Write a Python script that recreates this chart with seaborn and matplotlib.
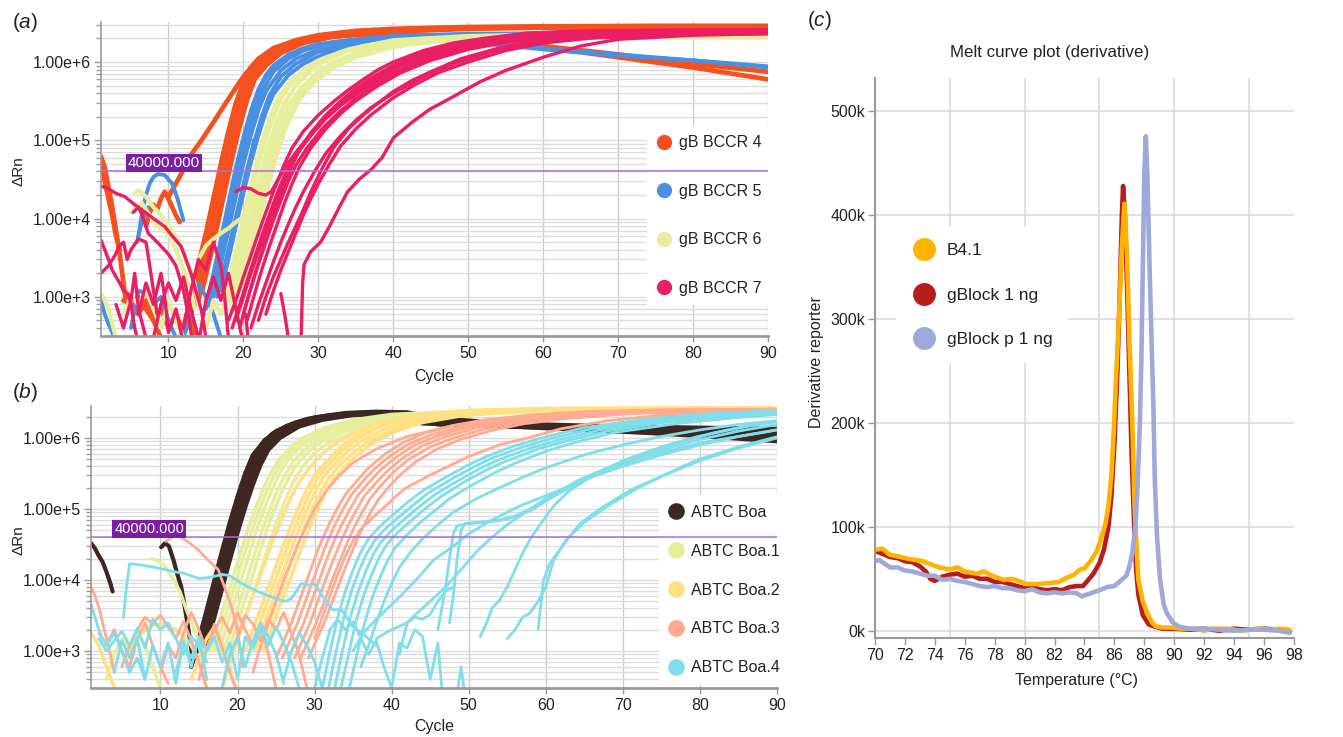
import pandas as pd
import matplotlib
matplotlib.use("Agg")
import matplotlib.pyplot as plt
import matplotlib.ticker as mticker
from matplotlib.lines import Line2D
import seaborn as sns

# ---------------------------------------------------------------------------
# (a) amplification plot, gB BCCR 4-7  -> each curve is a list of (cycle, dRn)
# ---------------------------------------------------------------------------
bccr4_curves = [
    [(12, 4e2), (13, 1.0e3), (14, 2.6e3), (15, 6.5e3), (16, 1.8e4), (17, 5e4), (18, 1.3e5), (19, 3e5), (20, 5.5e5), (21, 8.5e5), (22, 1.1e6), (24, 1.5e6), (27, 1.9e6), (30, 2.2e6), (35, 2.5e6), (40, 2.65e6), (50, 2.8e6), (60, 2.85e6), (75, 2.9e6), (90, 2.9e6)],
    [(13, 6e2), (14, 1.4e3), (15, 3.5e3), (16, 1e4), (17, 2.8e4), (18, 7.5e4), (19, 1.9e5), (20, 4e5), (21, 6.8e5), (22, 9.5e5), (24, 1.4e6), (27, 1.8e6), (30, 2.05e6), (35, 2.25e6), (40, 2.3e6), (45, 2.2e6), (50, 2e6), (60, 1.6e6), (70, 1.25e6), (80, 0.95e6), (90, 0.75e6)],
    [(13.5, 8e2), (14.5, 2e3), (15.5, 5e3), (16.5, 1.4e4), (17.5, 3.8e4), (18.5, 1e5), (19.5, 2.4e5), (20.5, 4.8e5), (21.5, 7.5e5), (23, 1.1e6), (25, 1.5e6), (28, 1.9e6), (32, 2.15e6), (38, 2.3e6), (45, 2.15e6), (50, 2e6), (60, 1.55e6), (70, 1.15e6), (80, 0.85e6), (90, 0.6e6)],
    [(14, 9e2), (15, 2.2e3), (16, 6e3), (17, 1.6e4), (18, 4.5e4), (19, 1.2e5), (20, 2.8e5), (21, 5.2e5), (22, 8e5), (24, 1.2e6), (27, 1.7e6), (30, 2e6), (35, 2.35e6), (40, 2.55e6), (50, 2.7e6), (60, 2.8e6), (90, 2.85e6)],
    [(14.5, 1.2e3), (15.5, 3e3), (16.5, 8e3), (17.5, 2.2e4), (18.5, 6e4), (19.5, 1.5e5), (20.5, 3.3e5), (21.5, 6e5), (23, 9e5), (25, 1.3e6), (28, 1.75e6), (32, 2.1e6), (40, 2.45e6), (50, 2.65e6), (60, 2.75e6), (90, 2.8e6)],
    [(12.5, 5e2), (13.5, 1.3e3), (14.5, 3.3e3), (15.5, 9e3), (16.5, 2.5e4), (17.5, 6.8e4), (18.5, 1.7e5), (19.5, 3.7e5), (20.5, 6.3e5), (21.5, 8.8e5), (23, 1.2e6), (26, 1.65e6), (30, 2.1e6), (36, 2.45e6), (45, 2.7e6), (60, 2.8e6), (90, 2.85e6)],
    [(10, 1.9e4), (11, 2.8e4), (12, 4.2e4), (13, 6.5e4), (14.4, 1e5), (16, 1.7e5), (17, 2.4e5), (18.8, 4.4e5), (20, 6.5e5), (21, 8.5e5), (23, 1.2e6), (26, 1.6e6), (30, 2.1e6), (40, 2.6e6), (50, 2.75e6), (70, 2.85e6), (90, 2.85e6)],
    [(1, 6.2e4), (1.5, 4.5e4), (2, 2.5e4), (2.5, 1.4e4), (3, 7e3), (3.5, 3.5e3), (4, 1.5e3), (4.3, 9e2), (5, 8e2), (6, 1e3), (7, 7e2), (8, 5e2), (9, 3e2)],
    [(1, 4.5e4), (1.5, 3e4), (2, 1.8e4), (2.5, 1.1e4), (3, 6e3), (3.5, 4e3)],
    [(7, 8e3), (7.5, 1.2e4), (8, 1.5e4), (8.5, 1.3e4), (9, 1.8e4), (9.5, 2.2e4), (10, 1.8e4), (10.5, 1.4e4), (11, 1.1e4), (11.5, 9e3)],
    [(4, 9e2), (5, 8e2), (6, 6e2), (7, 9e2), (8, 5e2), (9, 7e2), (10, 4e2), (11, 6e2), (12, 3.5e2), (13, 5e2), (14, 2.5e2)],
]

bccr5_curves = [
    [(15, 8e2), (16, 2e3), (17, 5.5e3), (18, 1.6e4), (19, 4.5e4), (20, 1.1e5), (21, 2.4e5), (22, 4.5e5), (23, 6.8e5), (24, 9e5), (26, 1.25e6), (28, 1.5e6), (30, 1.7e6), (35, 1.95e6), (40, 2.1e6), (50, 2.25e6), (60, 2.3e6), (90, 2.35e6)],
    [(15.5, 9e2), (16.5, 2.2e3), (17.5, 6e3), (18.5, 1.7e4), (19.5, 4.6e4), (20.5, 1.1e5), (21.5, 2.3e5), (22.5, 4.2e5), (24, 7.5e5), (26, 1.1e6), (28, 1.4e6), (31, 1.7e6), (36, 1.95e6), (42, 2.0e6), (50, 1.8e6), (60, 1.45e6), (70, 1.2e6), (80, 1.05e6), (90, 0.88e6)],
    [(16, 1e3), (17, 2.6e3), (18, 7e3), (19, 1.9e4), (20, 5e4), (21, 1.15e5), (22, 2.4e5), (23, 4.2e5), (25, 7.8e5), (27, 1.1e6), (30, 1.45e6), (35, 1.8e6), (40, 2.0e6), (50, 2.2e6), (60, 2.3e6), (90, 2.4e6)],
    [(16.5, 1e3), (17.5, 2.5e3), (18.5, 6.5e3), (19.5, 1.7e4), (20.5, 4.3e4), (21.5, 1e5), (22.5, 2.1e5), (23.5, 3.8e5), (25, 6.5e5), (27, 9.5e5), (30, 1.35e6), (35, 1.75e6), (40, 1.95e6), (45, 1.95e6), (50, 1.8e6), (60, 1.5e6), (70, 1.25e6), (80, 1.05e6), (90, 0.85e6)],
    [(15, 7e2), (16, 1.5e3), (17, 4e3), (18, 1.2e4), (19, 3.6e4), (20, 9.5e4), (21, 2.2e5), (22, 4.2e5), (23, 6.5e5), (25, 1e6), (28, 1.45e6), (32, 1.8e6), (40, 2.15e6), (50, 2.3e6), (70, 2.35e6), (90, 2.4e6)],
    [(17, 1.2e3), (18, 3e3), (19, 8e3), (20, 2.1e4), (21, 5.2e4), (22, 1.15e5), (23, 2.3e5), (24, 3.9e5), (26, 6.8e5), (28, 9.5e5), (31, 1.3e6), (36, 1.7e6), (42, 2e6), (50, 2.2e6), (60, 2.3e6), (90, 2.35e6)],
    [(6, 6e3), (6.5, 1.2e4), (7, 2e4), (7.5, 2.8e4), (8, 3.4e4), (8.6, 3.7e4), (9.5, 3.6e4), (10.5, 2.8e4), (11.2, 1.8e4), (12, 9.5e3)],
    [(5.8, 5e3), (6.3, 8e3), (6.8, 1.1e4), (7.3, 1.4e4)],
    [(20.5, 3.5e4), (21, 6e4), (21.4, 1e5)],
    [(1, 9e2), (1.5, 6e2), (2, 4.5e2), (2.5, 3.5e2), (3, 2.5e2)],
    [(5, 4e2), (6, 1.2e3), (7, 1.1e3), (8, 8e2), (9, 1e3), (10, 5e2), (11, 3e2)],
    [(12, 3e2), (13, 6e2), (14, 1.5e3), (15, 1e3), (16, 6e2), (17, 3e2)],
]

bccr6_curves = [
    [(18, 1e3), (19, 2.6e3), (20, 7e3), (21, 1.9e4), (22, 4.8e4), (23, 1.05e5), (24, 2e5), (25, 3.3e5), (26, 4.8e5), (28, 7.5e5), (30, 1e6), (33, 1.35e6), (36, 1.6e6), (40, 1.85e6), (45, 2e6), (50, 2.1e6), (60, 2.2e6), (90, 2.2e6)],
    [(18.5, 1e3), (19.5, 2.5e3), (20.5, 6.5e3), (21.5, 1.7e4), (22.5, 4.3e4), (23.5, 9.5e4), (24.5, 1.8e5), (25.5, 3e5), (27, 5e5), (29, 7.8e5), (31, 1.05e6), (34, 1.4e6), (38, 1.7e6), (42, 1.9e6), (50, 2.1e6), (60, 2.15e6), (90, 2.15e6)],
    [(19, 1.1e3), (20, 2.8e3), (21, 7e3), (22, 1.8e4), (23, 4.3e4), (24, 9e4), (25, 1.7e5), (26, 2.8e5), (28, 5e5), (30, 7.5e5), (32, 1e6), (35, 1.3e6), (40, 1.7e6), (45, 1.9e6), (50, 2e6), (60, 2.1e6), (90, 2.05e6)],
    [(17.5, 1e3), (18.5, 2.4e3), (19.5, 6e3), (20.5, 1.6e4), (21.5, 4.2e4), (22.5, 9.5e4), (23.5, 1.9e5), (24.5, 3.2e5), (26, 5.2e5), (28, 8e5), (30, 1.05e6), (34, 1.45e6), (40, 1.9e6), (50, 2.15e6), (60, 2.25e6), (90, 2.3e6)],
    [(19.5, 1.2e3), (20.5, 3e3), (21.5, 7.5e3), (22.5, 1.9e4), (23.5, 4.4e4), (24.5, 9e4), (25.5, 1.7e5), (27, 3.2e5), (29, 5.5e5), (31, 8e5), (34, 1.1e6), (38, 1.45e6), (44, 1.8e6), (50, 2e6), (60, 2.1e6), (90, 2.1e6)],
    [(20, 1.3e3), (21, 3.2e3), (22, 8e3), (23, 2e4), (24, 4.6e4), (25, 9.5e4), (26, 1.75e5), (27.5, 3.3e5), (29.5, 5.6e5), (32, 8.5e5), (35, 1.15e6), (40, 1.55e6), (46, 1.85e6), (55, 2.05e6), (70, 2.15e6), (90, 2.15e6)],
    [(14, 3e3), (15, 4.5e3), (16, 5.5e3), (17, 6.5e3), (18, 7.5e3), (19, 9e3), (20, 1.05e4), (21, 1.5e4), (22, 2.8e4)],
    [(5.5, 2.1e4), (6, 2.3e4), (7, 1.9e4), (8, 1.4e4), (8.7, 1.2e4), (10, 8e3), (11.3, 5.3e3), (12.6, 2.7e3), (13.4, 1.6e3), (14, 8e2)],
    [(5, 1.2e4), (6.4, 1.6e4), (7.5, 1.1e4), (8.5, 8e3), (10, 6.3e3), (11, 4e3), (12, 2.2e3), (13, 1.2e3), (13.5, 7e2)],
    [(1, 1.1e3), (1.5, 9e2), (2, 7e2), (2.5, 4.5e2), (3, 3e2)],
    [(4, 6e2), (5, 1e3), (6, 8e2), (7, 1.2e3), (8, 7e2), (9, 4e2), (10, 9e2), (11, 5e2), (12, 3e2)],
    [(15, 4e2), (16, 9e2), (17, 6e2), (18, 1.1e3), (19, 5e2)],
]

bccr7_curves = [
    [(18, 5e2), (19, 9e2), (20, 1.8e3), (21, 3.4e3), (22, 6.5e3), (23, 1.2e4), (24, 2.2e4), (25.4, 4.8e4), (26.5, 8e4), (28, 1.3e5), (30, 2.1e5), (32, 3.1e5), (34, 4.4e5), (36, 6e5), (38, 8e5), (40, 1e6), (44, 1.4e6), (48, 1.75e6), (52, 2e6), (58, 2.35e6), (65, 2.5e6), (75, 2.55e6), (90, 2.55e6)],
    [(19, 5e2), (20, 1e3), (21, 2e3), (22, 3.8e3), (23, 7e3), (24, 1.3e4), (25, 2.3e4), (26, 4e4), (27, 6.5e4), (28.5, 1.05e5), (30.5, 1.8e5), (32.5, 2.8e5), (35, 4.2e5), (37, 5.7e5), (40, 8.5e5), (44, 1.25e6), (48, 1.6e6), (53, 1.95e6), (60, 2.25e6), (70, 2.4e6), (90, 2.45e6)],
    [(18.5, 4e2), (19.5, 8e2), (20.5, 1.6e3), (21.5, 3.2e3), (22.5, 6.2e3), (23.5, 1.15e4), (24.5, 2.1e4), (25.5, 3.6e4), (27, 6.5e4), (29, 1.15e5), (31, 1.9e5), (33, 2.9e5), (35, 4e5), (38, 6.2e5), (41, 9e5), (45, 1.25e6), (50, 1.65e6), (56, 2e6), (64, 2.3e6), (75, 2.45e6), (90, 2.5e6)],
    [(20, 6e2), (21, 1.3e3), (22, 2.6e3), (23, 5e3), (24, 9.5e3), (25, 1.7e4), (26, 3e4), (27, 4.8e4), (28.5, 8e4), (30.5, 1.4e5), (33, 2.4e5), (35, 3.4e5), (38, 5.3e5), (41, 7.8e5), (45, 1.1e6), (50, 1.5e6), (56, 1.9e6), (64, 2.2e6), (75, 2.35e6), (90, 2.4e6)],
    [(19.5, 4e2), (20.5, 9e2), (21.5, 1.9e3), (22.5, 3.9e3), (23.5, 7.8e3), (24.5, 1.5e4), (25.5, 2.8e4), (26.5, 4.8e4), (27.5, 7.5e4), (29, 1.25e5), (31, 2.1e5), (33, 3.2e5), (35, 4.6e5), (37, 6.2e5), (40, 9e5), (44, 1.3e6), (48, 1.65e6), (53, 2e6), (60, 2.3e6), (70, 2.5e6), (90, 2.6e6)],
    [(20.5, 5e2), (21.5, 1.1e3), (22.5, 2.3e3), (23.5, 4.5e3), (24.5, 8.5e3), (25.5, 1.6e4), (26.5, 2.8e4), (27.5, 4.6e4), (29, 8e4), (31, 1.4e5), (33, 2.2e5), (35, 3.2e5), (38, 5e5), (41, 7.3e5), (45, 1.05e6), (50, 1.45e6), (56, 1.85e6), (64, 2.15e6), (75, 2.3e6), (90, 2.35e6)],
    [(19, 2.2e4), (20, 2.5e4), (21, 2.4e4), (22, 2.1e4), (23, 2e4), (23.7, 2.2e4), (24.5, 3e4), (25.5, 4.4e4), (27, 7e4), (29, 1.2e5), (31, 1.9e5), (33, 2.8e5), (36, 4.4e5), (39, 6.5e5), (42, 9e5), (46, 1.25e6), (52, 1.7e6), (60, 2.1e6), (70, 2.35e6), (90, 2.45e6)],
    [(22, 5e2), (23, 1e3), (24, 1.8e3), (25, 3e3), (26, 5e3), (27, 8e3), (28, 1.3e4), (29, 2.2e4), (30.3, 4e4), (32, 8e4), (34, 1.4e5), (36, 2.1e5), (38, 3e5), (40, 4.2e5), (42.5, 5.8e5), (45, 7.5e5), (49, 1.1e6), (54, 1.5e6), (58, 1.8e6), (65, 2.1e6), (75, 2.3e6), (90, 2.35e6)],
    [(23, 6e2), (24, 1.2e3), (25, 2.2e3), (26, 3.8e3), (27, 6.5e3), (28, 1.1e4), (29, 1.8e4), (30, 2.8e4), (31.5, 5e4), (33, 8.5e4), (35, 1.4e5), (37, 2.1e5), (40, 3.5e5), (43, 5.2e5), (46, 7.3e5), (50, 1e6), (55, 1.4e6), (60, 1.75e6), (68, 2.1e6), (80, 2.3e6), (90, 2.35e6)],
    [(21, 4e2), (22, 8e2), (23, 1.5e3), (24, 2.8e3), (25, 5e3), (26, 8.5e3), (27, 1.4e4), (28, 2.2e4), (29.5, 4e4), (31, 6.8e4), (33, 1.15e5), (35, 1.8e5), (37, 2.6e5), (40, 4e5), (44, 6.5e5), (48, 9.5e5), (53, 1.35e6), (58, 1.7e6), (65, 2e6), (75, 2.2e6), (90, 2.3e6)],
    [(27.7, 3e2), (27.9, 1.5e3), (28.1, 2.6e3), (29, 3.8e3), (30.3, 5e3), (31.5, 8e3), (32.8, 1.4e4), (33.9, 2.2e4), (35.5, 3.2e4), (37, 4.2e4), (38.5, 6e4), (40, 1.07e5), (42.5, 1.7e5), (44.9, 2.5e5), (47, 3.2e5), (51.6, 5.6e5), (55, 7.8e5), (60, 1.15e6), (65, 1.6e6), (70, 1.95e6), (80, 2.2e6), (90, 2.3e6)],
    [(1, 2.6e4), (2, 2.4e4), (3, 2.1e4), (4.2, 1.9e4), (5.5, 1.5e4), (6.9, 1.2e4), (8, 1e4), (9.5, 7.9e3), (10.5, 6e3), (11.7, 4.4e3), (13, 2e3), (14.4, 6.7e2), (15, 3e2)],
    [(5.3, 1.2e4), (6, 1.4e4), (6.5, 1.1e4), (7.3, 6.5e3), (8.5, 5e3), (10, 3.5e3), (11, 2.5e3), (12, 1.2e3), (12.8, 5e2), (13.2, 2.5e2)],
    [(1, 5.3e3), (1.5, 4e3), (2, 3e3), (2.5, 2.2e3), (3, 1.8e3), (3.5, 1.5e3), (4, 1.2e3), (4.6, 1.1e3), (5, 8e2), (5.5, 4e2), (6, 2.5e2)],
    [(1, 2e3), (2, 2.5e3), (2.8, 3.3e3), (3.5, 4.5e3), (4, 5e3), (4.5, 3e3), (5, 4e3), (6, 5.5e3), (7, 5e3), (7.5, 2.5e3), (8, 1.2e3), (8.5, 6e2)],
    [(3, 8e2), (4, 4e2), (5, 9e2), (5.5, 2e3), (6, 7e2), (7, 3e2)],
    [(6, 6e2), (7, 1.5e3), (8, 8e2), (9, 2e3), (9.5, 1e3), (10, 3.5e2), (11, 7e2), (12, 2.5e2)],
    [(8, 3e2), (9, 8e2), (10, 1.5e3), (11, 9e2), (12, 1.8e3), (13, 7e2), (14, 3e2)],
    [(12, 4e2), (13, 1.2e3), (14, 3e3), (15, 2.2e3), (16, 5e3), (17, 2.5e3), (17.5, 1e3), (18, 3e2)],
    [(14, 2.5e2), (15, 9e2), (16, 1.8e3), (17, 9e2), (18, 2e3), (19, 7e2), (20, 2.5e2)],
    [(25, 1.1e3), (25.5, 6e2), (26, 3e2)],
    [(20.3, 6e2), (20.6, 3e2)],
]

# ---------------------------------------------------------------------------
# (b) amplification plot, ABTC Boa series
# ---------------------------------------------------------------------------
boa_curves = [
    [(14.5, 9e2), (15.5, 2e3), (16.2, 3.3e3), (17, 7e3), (17.9, 1.4e4), (19, 4e4), (20, 1e5), (21, 2.4e5), (22, 4.8e5), (23, 7.8e5), (24.5, 1.15e6), (26.5, 1.5e6), (29, 1.85e6), (32, 2.1e6), (36, 2.25e6), (40, 2.1e6), (43, 1.7e6), (47, 1.55e6), (60, 1.45e6), (75, 1.3e6), (90, 1.15e6)],
    [(15, 1e3), (16, 2.3e3), (17, 5.5e3), (18, 1.4e4), (19, 3.5e4), (20, 8.5e4), (21, 2e5), (22, 4e5), (23, 6.8e5), (24.5, 1e6), (26.5, 1.4e6), (29, 1.75e6), (33, 2.1e6), (38, 2.2e6), (41, 1.9e6), (44, 1.6e6), (55, 1.45e6), (65, 1.3e6), (75, 1.15e6), (90, 0.9e6)],
    [(14, 6e2), (15, 1.5e3), (16, 3.8e3), (17, 1e4), (18, 2.6e4), (19, 6.5e4), (20, 1.5e5), (21, 3.2e5), (22, 5.8e5), (23.5, 9e5), (25, 1.25e6), (27.5, 1.65e6), (30, 1.95e6), (34, 2.25e6), (38, 2.35e6), (42, 2.3e6), (46, 1.9e6), (55, 1.6e6), (70, 1.45e6), (90, 1.35e6)],
    [(15.5, 1.1e3), (16.5, 2.6e3), (17.5, 6.5e3), (18.5, 1.6e4), (19.5, 4e4), (20.5, 9.5e4), (21.5, 2.1e5), (22.5, 4.1e5), (23.5, 6.8e5), (25, 1e6), (27, 1.4e6), (30, 1.8e6), (34, 2.1e6), (39, 2.2e6), (43, 1.8e6), (48, 1.55e6), (60, 1.45e6), (80, 1.3e6), (90, 1.25e6)],
    [(16, 1.2e3), (17, 3e3), (18, 7.5e3), (19, 1.9e4), (20, 4.6e4), (21, 1.05e5), (22, 2.2e5), (23, 4.2e5), (24, 6.8e5), (25.5, 1e6), (28, 1.45e6), (31, 1.8e6), (35, 2.1e6), (39, 2.15e6), (42, 1.85e6), (46, 1.55e6), (60, 1.4e6), (75, 1.2e6), (90, 1e6)],
    [(14.2, 7e2), (15.2, 1.7e3), (16.2, 4.3e3), (17.2, 1.1e4), (18.2, 2.9e4), (19.2, 7e4), (20.2, 1.6e5), (21.2, 3.4e5), (22.2, 6e5), (23.5, 9.3e5), (25.5, 1.3e6), (28, 1.7e6), (31, 2e6), (35, 2.25e6), (40, 2.3e6), (44, 2e6), (50, 1.6e6), (60, 1.5e6), (75, 1.3e6), (90, 1.1e6)],
    [(1, 3.3e4), (1.5, 2.8e4), (2, 2.2e4), (2.5, 1.8e4), (3, 1.3e4), (3.5, 9e3), (3.8, 6.9e3)],
    [(10.1, 2.9e4), (10.6, 3.3e4), (11.1, 3e4), (11.7, 1.9e4), (12.2, 1.2e4), (12.7, 8e3), (13.1, 4.5e3), (13.5, 2.5e3), (13.9, 1.3e3), (14.2, 7e2)],
]

boa1_curves = [
    [(17, 1e3), (18, 2.2e3), (19, 5e3), (20, 1.1e4), (21, 2.5e4), (22, 5.5e4), (23, 1.1e5), (24, 2e5), (25, 3.4e5), (26, 5e5), (27.5, 7.5e5), (29, 1e6), (32, 1.4e6), (36, 1.8e6), (40, 2.1e6), (50, 2.35e6), (60, 2.4e6), (90, 2.45e6)],
    [(17.6, 1e3), (18.6, 2.2e3), (19.6, 5e3), (20.6, 1.1e4), (21.6, 2.5e4), (22.6, 5.5e4), (23.6, 1.1e5), (24.6, 2e5), (25.6, 3.4e5), (26.6, 5e5), (28.1, 7.4e5), (29.6, 9.8e5), (32.6, 1.38e6), (36.6, 1.78e6), (41, 2.08e6), (50, 2.33e6), (60, 2.4e6), (90, 2.45e6)],
    [(18.2, 1e3), (19.2, 2.1e3), (20.2, 4.6e3), (21.2, 1e4), (22.2, 2.3e4), (23.2, 5e4), (24.2, 1e5), (25.2, 1.85e5), (26.2, 3.1e5), (27.2, 4.6e5), (28.7, 6.9e5), (30.2, 9.2e5), (33.2, 1.3e6), (37, 1.7e6), (42, 2e6), (50, 2.25e6), (60, 2.35e6), (90, 2.4e6)],
    [(18.8, 1e3), (19.8, 2.1e3), (20.8, 4.6e3), (21.8, 1e4), (22.8, 2.3e4), (23.8, 5e4), (24.8, 1e5), (25.8, 1.8e5), (26.8, 3e5), (27.8, 4.4e5), (29.3, 6.6e5), (31, 9e5), (34, 1.25e6), (38, 1.65e6), (43, 1.95e6), (50, 2.2e6), (60, 2.35e6), (90, 2.4e6)],
    [(16.5, 1e3), (17.5, 2.3e3), (18.5, 5.2e3), (19.5, 1.15e4), (20.5, 2.6e4), (21.5, 5.8e4), (22.5, 1.15e5), (23.5, 2.1e5), (24.5, 3.5e5), (25.5, 5.1e5), (27, 7.6e5), (28.5, 1e6), (31.5, 1.42e6), (35, 1.8e6), (40, 2.15e6), (50, 2.4e6), (60, 2.45e6), (90, 2.5e6)],
    [(19.5, 1e3), (20.5, 2e3), (21.5, 4.3e3), (22.5, 9e3), (23.5, 2e4), (24.5, 4.3e4), (25.5, 8.5e4), (26.5, 1.6e5), (27.5, 2.7e5), (28.5, 4e5), (30, 6.2e5), (32, 8.8e5), (35, 1.2e6), (39, 1.6e6), (44, 1.95e6), (52, 2.2e6), (62, 2.35e6), (90, 2.4e6)],
    [(8.8, 2e4), (9.5, 1.9e4), (10.5, 1.6e4), (11.5, 1.1e4), (12.5, 7e3), (13.5, 3.5e3), (14.4, 2e3), (15, 1.3e3), (15.5, 6e2)],
    [(3, 4e2), (4, 9e2), (5, 1.5e3), (6, 1.1e3), (7, 1.9e3), (8, 1.2e3), (9, 6e2), (10, 3e2)],
]

boa2_curves = [
    [(21, 1e3), (22, 2e3), (23, 4e3), (24, 8e3), (25, 1.6e4), (26, 3.2e4), (27, 6e4), (28, 1.1e5), (29, 1.9e5), (30, 3e5), (31.5, 4.6e5), (33, 6.8e5), (35, 1e6), (37.5, 1.4e6), (40, 1.8e6), (45, 2.2e6), (50, 2.45e6), (60, 2.6e6), (90, 2.65e6)],
    [(21.6, 1e3), (22.6, 2e3), (23.6, 4e3), (24.6, 8e3), (25.6, 1.6e4), (26.6, 3.2e4), (27.6, 6e4), (28.6, 1.1e5), (29.6, 1.9e5), (30.6, 3e5), (32.1, 4.6e5), (33.6, 6.7e5), (35.6, 9.8e5), (38, 1.37e6), (41, 1.8e6), (46, 2.2e6), (52, 2.45e6), (62, 2.6e6), (90, 2.65e6)],
    [(22.2, 1e3), (23.2, 2e3), (24.2, 4e3), (25.2, 8e3), (26.2, 1.6e4), (27.2, 3.2e4), (28.2, 6e4), (29.2, 1.1e5), (30.2, 1.85e5), (31.2, 2.9e5), (32.7, 4.4e5), (34.2, 6.4e5), (36.2, 9.3e5), (39, 1.32e6), (42, 1.72e6), (47, 2.12e6), (54, 2.42e6), (65, 2.6e6), (90, 2.65e6)],
    [(22.8, 1e3), (23.8, 2e3), (24.8, 4e3), (25.8, 8e3), (26.8, 1.6e4), (27.8, 3.1e4), (28.8, 5.8e4), (29.8, 1.05e5), (30.8, 1.75e5), (31.8, 2.7e5), (33.3, 4.2e5), (35, 6.2e5), (37, 9e5), (40, 1.3e6), (43, 1.68e6), (48, 2.08e6), (55, 2.4e6), (65, 2.55e6), (90, 2.6e6)],
    [(23.4, 1e3), (24.4, 2e3), (25.4, 4e3), (26.4, 7.8e3), (27.4, 1.5e4), (28.4, 3e4), (29.4, 5.5e4), (30.4, 1e5), (31.4, 1.7e5), (32.4, 2.6e5), (34, 4e5), (35.6, 5.9e5), (37.6, 8.6e5), (40.5, 1.25e6), (44, 1.65e6), (49, 2.05e6), (56, 2.38e6), (66, 2.55e6), (90, 2.6e6)],
    [(18, 3e2), (19, 7e2), (20, 1.5e3), (21, 3e3), (22, 6e3), (23, 1.2e4), (24, 2.4e4), (25, 4.6e4), (26, 8.5e4), (27, 1.5e5), (28, 2.4e5), (29.5, 4e5), (31, 6e5), (33, 8.8e5), (36, 1.3e6), (39, 1.7e6), (44, 2.1e6), (50, 2.4e6), (60, 2.55e6), (90, 2.6e6)],
    [(6, 1e3), (7, 1.5e3), (8, 2e3), (9, 2.3e3), (10, 2.4e3), (11, 2.2e3), (12, 2e3), (13, 1.6e3), (14, 1.2e3), (15, 7e2), (16, 3e2)],
    [(1, 1.8e3), (2, 1.2e3), (3, 6e2), (4, 3e2)],
    [(14, 4e2), (15, 8e2), (16, 1.5e3), (17, 2.2e3), (18, 1.3e3), (19, 6e2), (20, 2.5e2)],
]

boa3_curves = [
    [(25, 8e2), (26, 1.4e3), (27, 2.5e3), (28, 5e3), (29, 1e4), (30, 2e4), (31, 3.8e4), (32, 6.5e4), (33, 1.05e5), (34, 1.6e5), (35.5, 2.5e5), (37, 3.8e5), (39, 5.8e5), (41.4, 8.5e5), (44, 1.15e6), (48, 1.5e6), (52, 1.8e6), (58, 2.1e6), (65, 2.35e6), (75, 2.5e6), (90, 2.55e6)],
    [(25.8, 8e2), (26.8, 1.4e3), (27.8, 2.5e3), (28.8, 5e3), (29.8, 1e4), (30.8, 2e4), (31.8, 3.8e4), (32.8, 6.5e4), (33.8, 1.05e5), (34.8, 1.6e5), (36.3, 2.5e5), (37.8, 3.7e5), (39.8, 5.6e5), (42.2, 8.2e5), (45, 1.1e6), (49, 1.45e6), (53, 1.75e6), (59, 2.05e6), (66, 2.3e6), (76, 2.45e6), (90, 2.5e6)],
    [(26.6, 8e2), (27.6, 1.4e3), (28.6, 2.5e3), (29.6, 5e3), (30.6, 1e4), (31.6, 2e4), (32.6, 3.7e4), (33.6, 6.3e4), (34.6, 1e5), (35.6, 1.55e5), (37.1, 2.4e5), (38.6, 3.6e5), (40.6, 5.4e5), (43, 8e5), (46, 1.08e6), (50, 1.42e6), (54, 1.72e6), (60, 2.02e6), (67, 2.28e6), (77, 2.45e6), (90, 2.5e6)],
    [(27.4, 8e2), (28.4, 1.4e3), (29.4, 2.5e3), (30.4, 5e3), (31.4, 1e4), (32.4, 1.9e4), (33.4, 3.5e4), (34.4, 6e4), (35.4, 9.6e4), (36.4, 1.5e5), (37.9, 2.3e5), (39.4, 3.4e5), (41.4, 5.2e5), (44, 7.8e5), (47, 1.05e6), (51, 1.38e6), (55, 1.68e6), (61, 2e6), (68, 2.25e6), (78, 2.42e6), (90, 2.48e6)],
    [(28.2, 8e2), (29.2, 1.4e3), (30.2, 2.5e3), (31.2, 4.8e3), (32.2, 9.5e3), (33.2, 1.8e4), (34.2, 3.3e4), (35.2, 5.7e4), (36.2, 9.2e4), (37.2, 1.4e5), (38.7, 2.2e5), (40.2, 3.3e5), (42.2, 5e5), (45, 7.5e5), (48, 1e6), (52, 1.33e6), (56, 1.63e6), (62, 1.95e6), (70, 2.25e6), (80, 2.42e6), (90, 2.46e6)],
    [(29.2, 8e2), (30.2, 1.4e3), (31.2, 2.4e3), (32.2, 4.6e3), (33.2, 9e3), (34.2, 1.7e4), (35.2, 3.1e4), (36.2, 5.4e4), (37.2, 8.7e4), (38.2, 1.33e5), (39.7, 2.1e5), (41.2, 3.1e5), (43.2, 4.7e5), (46, 7.1e5), (49, 9.6e5), (53, 1.28e6), (57, 1.58e6), (63, 1.9e6), (71, 2.2e6), (81, 2.4e6), (90, 2.45e6)],
    [(22, 5e2), (23, 1.2e3), (24, 2.5e3), (25, 5e3), (26, 1e4), (27, 1.9e4), (28, 3.5e4), (29, 6e4), (30, 1e5), (31.5, 1.8e5), (33, 2.8e5), (35, 4.5e5), (38, 7e5), (42, 1.05e6), (48, 1.5e6), (55, 1.9e6), (65, 2.3e6), (90, 2.5e6)],
    [(30, 1.5e3), (31, 3e3), (32, 6e3), (33, 1.2e4), (34, 2.2e4), (35, 3.6e4), (36, 5.2e4), (37.5, 7.5e4), (39, 1.05e5), (40.5, 1.5e5), (41.9, 2e5), (45, 3e5), (50, 5.5e5), (54, 8e5), (57.6, 1e6), (62, 1.35e6), (68, 1.75e6), (75, 2.1e6), (90, 2.4e6)],
    [(10.7, 3.5e4), (11.5, 4e4), (12, 4.3e4), (13, 3.8e4), (14, 3.2e4), (15, 2.6e4), (16, 2e4), (17.5, 1.4e4), (18.5, 7e3), (19.2, 4.2e3), (19.8, 2.5e3), (20.3, 1.2e3), (20.7, 6e2)],
    [(1, 8e3), (1.5, 6e3), (2, 4.2e3), (2.5, 2.5e3), (3, 1.5e3), (3.5, 9e2), (4, 5e2)],
    [(2, 1.8e3), (3, 1.2e3), (4, 2e3), (5, 1e3), (6, 6e2), (7, 1.5e3), (8, 2.5e3), (9, 1.2e3), (10, 6e2), (11, 3.5e2)],
    [(5, 6e2), (6, 1.2e3), (7, 2e3), (8, 3e3), (9, 2.4e3), (10, 3.2e3), (11, 2.2e3), (12, 1.5e3), (13, 2.6e3), (14, 1.4e3), (15, 7e2), (16, 3e2)],
    [(10, 5e2), (11, 1.2e3), (12, 8e2), (13, 1.8e3), (14, 3.5e3), (15, 2e3), (16, 1e3), (17, 2.4e3), (18, 1.1e3), (19, 5e2), (20, 2.5e2)],
    [(15, 4e2), (16, 1.1e3), (17, 2e3), (18, 3e3), (19, 1.8e3), (20, 3.4e3), (21, 2e3), (22, 1.2e3), (23, 2.5e3), (24, 9e2), (25, 3e2)],
    [(18, 3e2), (19, 9e2), (20, 1.6e3), (21, 3.2e3), (22, 2.4e3), (23, 1.4e3), (24, 2.8e3), (25, 2e3), (26, 3.5e3), (27, 1.8e3), (28, 9e2), (29, 3e2)],
]

boa4_curves = [
    [(31, 3e2), (32, 1e3), (33, 3e3), (34, 7e3), (35, 1.4e4), (36, 2.5e4), (37, 3.8e4), (38.4, 5.6e4), (40, 8e4), (41.9, 1.2e5), (44, 1.8e5), (47, 2.8e5), (50, 4.2e5), (52.3, 5.5e5), (56, 7.8e5), (60, 1.04e6), (65, 1.4e6), (73, 1.85e6), (80, 2.15e6), (90, 2.45e6)],
    [(31.8, 3e2), (32.8, 1e3), (33.8, 3e3), (34.8, 7e3), (35.8, 1.4e4), (36.8, 2.4e4), (37.8, 3.6e4), (39.2, 5.3e4), (40.8, 7.5e4), (42.7, 1.12e5), (44.8, 1.7e5), (47.8, 2.65e5), (50.8, 4e5), (53, 5.2e5), (57, 7.5e5), (61, 1e6), (66, 1.35e6), (74, 1.8e6), (81, 2.1e6), (90, 2.4e6)],
    [(32.6, 3e2), (33.6, 1e3), (34.6, 2.9e3), (35.6, 6.6e3), (36.6, 1.3e4), (37.6, 2.3e4), (38.6, 3.4e4), (40, 5e4), (41.6, 7.1e4), (43.5, 1.06e5), (45.6, 1.6e5), (48.6, 2.5e5), (51.6, 3.8e5), (54, 5e5), (58, 7.2e5), (62, 9.6e5), (67, 1.3e6), (75, 1.75e6), (82, 2.05e6), (90, 2.35e6)],
    [(33.4, 3e2), (34.4, 9e2), (35.4, 2.7e3), (36.4, 6.2e3), (37.4, 1.2e4), (38.4, 2.1e4), (39.4, 3.2e4), (40.8, 4.7e4), (42.4, 6.7e4), (44.3, 1e5), (46.4, 1.5e5), (49.4, 2.4e5), (52.4, 3.6e5), (55, 4.8e5), (59, 7e5), (63, 9.3e5), (68, 1.25e6), (76, 1.7e6), (83, 2e6), (90, 2.3e6)],
    [(34.5, 3e2), (35.5, 9e2), (36.5, 2.5e3), (37.5, 5.8e3), (38.5, 1.1e4), (39.5, 1.9e4), (40.5, 2.9e4), (42, 4.3e4), (43.5, 6.2e4), (45.5, 9.3e4), (47.5, 1.4e5), (50.5, 2.2e5), (53.5, 3.3e5), (56, 4.4e5), (60, 6.5e5), (64, 8.8e5), (69, 1.2e6), (77, 1.6e6), (84, 1.9e6), (90, 2.15e6)],
    [(35, 1e3), (36.3, 1.8e3), (38, 2.8e3), (40, 4.5e3), (41.5, 6.5e3), (43.5, 1.1e4), (45.4, 1.9e4), (48, 3e4), (50, 4.5e4), (53, 7e4), (56.6, 1.1e5), (61, 1.7e5), (65, 2.6e5), (70, 4e5), (75, 5.8e5), (80, 8e5), (85, 1.05e6), (90, 1.3e6)],
    [(36, 6e2), (37, 1.2e3), (38, 2.5e3), (39, 5e3), (40, 9e3), (41, 1.5e4), (42.5, 2.5e4), (44, 3.8e4), (46, 6e4), (48, 9e4), (51, 1.4e5), (54, 2e5), (57, 2.8e5), (60, 3.8e5), (65, 5.8e5), (70, 8e5), (75, 1.05e6), (80, 1.3e6), (85, 1.55e6), (90, 1.75e6)],
    [(46, 2e3), (46.5, 4e3), (47, 8e3), (47.5, 2e4), (48, 4.5e4), (48.5, 5.8e4), (50, 6.3e4), (52, 6.6e4), (54, 7e4), (56, 8e4), (58, 1e5), (61, 1.6e5), (64.4, 2.6e5), (68, 3.8e5), (73, 6.1e5), (77, 8.5e5), (81.7, 1.17e6), (86, 1.45e6), (90, 1.7e6)],
    [(47.5, 2.5e3), (48, 6e3), (48.5, 2e4), (49, 5e4), (49.5, 6.2e4), (52, 6.5e4), (55, 7.2e4), (58, 9.5e4), (61, 1.5e5), (65, 2.6e5), (70, 4.4e5), (75, 6.8e5), (80, 9.5e5), (85, 1.25e6), (90, 1.55e6)],
    [(51.5, 1.6e3), (52, 2.1e3), (52.5, 2.8e3), (53, 4e3), (54, 5.2e3), (55, 8e3), (56, 1.4e4), (57, 2.4e4), (58, 3.8e4), (59, 5.5e4), (61, 1.1e5), (63, 1.8e5), (66.6, 3.2e5), (70, 4.8e5), (75, 7.5e5), (79.6, 1.04e6), (85, 1.4e6), (90, 1.75e6)],
    [(55, 1.5e3), (56, 2e3), (57, 3e3), (57.9, 3.4e3), (59, 5e3), (60, 8e3), (61, 1.9e4), (62.5, 3.5e4), (64.5, 6.3e4), (67, 1e5), (71, 1.85e5), (75, 2.9e5), (79.6, 4.9e5), (85, 7.5e5), (90, 1.04e6)],
    [(59, 2e3), (59.4, 5e3), (59.7, 1e4), (60.5, 1.7e4), (61.5, 2.4e4), (63, 4e4), (65, 6.5e4), (68, 1.1e5), (72, 2e5), (76, 3.2e5), (80, 4.8e5), (85, 7.2e5), (90, 1e6)],
    [(38, 1.5e3), (40, 2e3), (42, 2.5e3), (43, 3.2e3), (45, 5e3), (47, 8e3), (49, 1.4e4), (51, 2.5e4), (53, 4e4), (55, 6e4), (57, 8.5e4), (60, 1.4e5), (64, 2.4e5), (68, 3.6e5), (73, 5.5e5), (80, 8.5e5), (90, 1.3e6)],
    [(5.2, 3e3), (5.6, 8e3), (6, 1.7e4), (8, 1.6e4), (10, 1.45e4), (12, 1.3e4), (13.1, 1.24e4), (15, 1.05e4), (16.6, 1.1e4), (18, 1.2e4), (19, 1.15e4), (20.5, 9e3), (22.6, 6.9e3), (24, 6e3), (26.1, 5e3), (27, 5.5e3), (28.3, 9e3), (29, 8.5e3), (30, 8.8e3), (31, 6e3), (32.3, 3.8e3), (33.5, 3.8e3), (35, 2.2e3), (36.7, 1.6e3), (38, 1.2e3)],
    [(1, 4.5e3), (1.5, 3e3), (2, 2e3), (2.5, 1.5e3), (3, 1.2e3), (4, 1.8e3), (5, 1e3), (6, 5e2), (7, 8e2), (8, 4e2)],
    [(2, 1.5e3), (3, 1e3), (4, 1.4e3), (5, 1.9e3), (6, 1.2e3), (7, 2.1e3), (8, 1.1e3), (9, 2.8e3), (10, 2e3), (11, 2.5e3), (12, 1.5e3), (13, 9e2), (14, 1.6e3), (15, 1.2e3), (16, 7e2)],
    [(4, 5e2), (5, 1.4e3), (6, 8e2), (7, 1.5e3), (8, 4e2), (9, 1.2e3), (10, 6e2), (11, 1.3e3), (12, 3.5e2), (13, 1.4e3), (14, 6e2), (15, 1.6e3), (16, 4e2)],
    [(12, 5e2), (13, 1.3e3), (14, 8e2), (15, 1.5e3), (16, 1e3), (17, 1.6e3), (18, 7e2), (19, 1.3e3), (20, 4e2), (21, 1.6e3), (22, 1.1e3), (23, 2e3), (24, 1.2e3), (25, 2.2e3), (26, 1.3e3), (27, 7e2), (28, 3e2)],
    [(18, 3e2), (19, 9e2), (20, 1.5e3), (21, 6e2), (22, 1.4e3), (23, 2.5e3), (24, 1.6e3), (25, 9e2), (26, 3.5e2)],
    [(26, 4e2), (27, 1e3), (28, 1.8e3), (29, 1.2e3), (30, 7e2), (31, 3e2)],
    [(30, 3e2), (31, 8e2), (32, 2e3), (33, 2.8e3), (34, 2e3), (35, 2.6e3), (36, 1.5e3), (37, 9e2), (38, 1.4e3), (39, 6e2), (40, 3e2)],
    [(40, 3e2), (41, 1.3e3), (42, 1.1e3), (43, 2e3), (44, 1.6e3), (45, 4e2), (46, 1.3e3), (46.5, 3e2)],
    [(41, 9e2), (42, 2.5e3), (43, 3e3), (44, 2.8e3), (45, 3.3e3), (46, 5e3), (47, 7e3), (48, 8e3)],
    [(48.5, 2.5e2), (49, 6e2), (49.5, 2.5e2)],
]

# ---------------------------------------------------------------------------
# (c) melt curve, derivative reporter in thousands
# ---------------------------------------------------------------------------
b41_temp = [70.0, 70.5, 71.0, 71.7, 72.3, 73.2, 73.7, 74.3, 75.0, 75.5, 76.0, 76.8, 77.3, 77.8, 78.6, 79.2, 80.1, 81.0, 81.7, 82.3, 82.8, 83.3, 83.7, 84.0, 84.4, 84.8, 85.1, 85.4, 85.6, 85.8, 85.95, 86.1, 86.3, 86.5, 86.67, 86.85, 87.0, 87.2, 87.35, 87.5, 87.6, 87.9, 88.2, 88.5, 88.8, 89.3, 89.8, 90.5, 91.5, 92.0, 92.5, 93.5, 94.5, 95.5, 96.5, 97.0, 97.7]
b41_deriv = [78, 79, 73, 71, 69, 67, 64, 61, 59, 61, 57, 55, 57, 53, 49, 50, 45, 45, 46, 47, 51, 54, 59, 60, 67, 76, 88, 103, 120, 150, 190, 240, 300, 370, 411, 360, 280, 200, 120, 75, 49, 28, 17, 8, 4, 3, 3, 2, 2, 0, 2, 2, 0, 2, 1, 2, 1]

gblock_temp = [70.0, 70.5, 71.0, 71.5, 72.0, 72.5, 73.0, 73.4, 73.7, 74.0, 74.5, 75.0, 75.5, 76.0, 76.5, 77.0, 77.5, 78.0, 78.5, 79.0, 79.5, 80.0, 80.5, 81.0, 81.5, 82.0, 82.5, 83.0, 83.5, 83.9, 84.2, 84.6, 85.0, 85.3, 85.6, 85.8, 86.0, 86.2, 86.35, 86.5, 86.58, 86.7, 86.85, 87.0, 87.15, 87.3, 87.45, 87.6, 87.9, 88.3, 88.7, 89.2, 90.0, 91.0, 92.0, 93.0, 94.0, 95.0, 96.0, 97.0, 97.7]
gblock_deriv = [77, 74, 71, 70, 67, 66, 62, 57, 50, 48, 52, 54, 55, 52, 53, 50, 50, 47, 47, 45, 43, 41, 42, 40, 39, 40, 39, 42, 43, 43, 48, 55, 65, 78, 100, 130, 180, 250, 320, 400, 428, 400, 330, 250, 170, 110, 60, 35, 15, 6, 4, 2, 2, 1, 2, 0, 2, 1, 2, 1, -1]

gblockp_temp = [70.0, 70.3, 70.7, 71.0, 71.5, 72.0, 72.5, 73.0, 73.5, 74.0, 74.5, 75.0, 75.5, 76.0, 76.5, 77.0, 77.5, 78.0, 78.5, 79.0, 79.5, 80.0, 80.5, 81.0, 81.5, 82.0, 82.5, 83.0, 83.5, 83.8, 84.2, 84.6, 85.0, 85.5, 86.0, 86.4, 86.8, 87.0, 87.2, 87.4, 87.55, 87.7, 87.8, 87.9, 88.0, 88.1, 88.2, 88.35, 88.5, 88.6, 88.7, 88.85, 89.05, 89.3, 89.5, 89.9, 90.3, 91.0, 92.0, 93.0, 94.0, 95.0, 96.0, 97.0, 97.7]
gblockp_deriv = [67, 68, 64, 61, 61, 58, 57, 55, 53, 53, 49, 50, 48, 47, 45, 43, 42, 43, 41, 41, 39, 38, 40, 37, 36, 37, 36, 37, 36, 33, 35, 37, 39, 42, 43, 48, 53, 62, 75, 100, 140, 200, 260, 350, 440, 476, 440, 350, 270, 220, 145, 90, 49, 25, 17, 8, 4, 2, 2, 1, 0, 1, 1, 0, -2]

panel_a_labels = ["gB BCCR 4", "gB BCCR 5", "gB BCCR 6", "gB BCCR 7"]
panel_a_colors = ["#f4511e", "#4a90e2", "#e6ee9c", "#e91e63"]
panel_b_labels = ["ABTC Boa", "ABTC Boa.1", "ABTC Boa.2", "ABTC Boa.3", "ABTC Boa.4"]
panel_b_colors = ["#3e2723", "#e6ee9c", "#ffe082", "#ffab91", "#80deea"]
panel_c_labels = ["B4.1", "gBlock 1 ng", "gBlock p 1 ng"]
panel_c_colors = ["#ffb300", "#b71c1c", "#9fa8da"]
threshold = 40000

sns.set_theme(style="white")
plt.rcParams["font.family"] = ["Liberation Sans", "DejaVu Sans"]
plt.rcParams["mathtext.fontset"] = "custom"
plt.rcParams["mathtext.it"] = "Liberation Sans:italic"
plt.rcParams["mathtext.rm"] = "Liberation Sans"

GRID = "#dcdcdc"
SPINE = "#9a9a9a"
TXT = "#222222"


def curves_to_df(curves):
    rows = []
    for well, curve in enumerate(curves):
        for cycle, rn in curve:
            rows.append((well, cycle, rn))
    return pd.DataFrame(rows, columns=["well", "cycle", "rn"])


def draw_group(ax, curves, color, lw):
    sns.lineplot(data=curves_to_df(curves), x="cycle", y="rn", units="well",
                 estimator=None, color=color, lw=lw, ax=ax, legend=False,
                 solid_capstyle="round", solid_joinstyle="round")


def style_amp(ax, ylim):
    ax.set_yscale("log")
    ax.set_xlim(1, 90)
    ax.set_ylim(*ylim)
    ax.set_xticks(range(10, 91, 10))
    ax.yaxis.set_major_locator(mticker.FixedLocator([1e3, 1e4, 1e5, 1e6]))
    ax.yaxis.set_major_formatter(mticker.FixedFormatter(["1.00e+3", "1.00e+4", "1.00e+5", "1.00e+6"]))
    ax.yaxis.set_minor_locator(mticker.LogLocator(base=10, subs=range(2, 10)))
    ax.yaxis.set_minor_formatter(mticker.NullFormatter())
    ax.set_axisbelow(True)
    ax.grid(True, which="both", axis="y", color=GRID, lw=1.0)
    ax.grid(True, which="major", axis="x", color="#cccccc", lw=1.0)
    for s in ["top", "right"]:
        ax.spines[s].set_visible(False)
    ax.spines["left"].set_color(SPINE)
    ax.spines["left"].set_linewidth(1.2)
    ax.spines["bottom"].set_color(SPINE)
    ax.spines["bottom"].set_linewidth(2.0)
    ax.tick_params(axis="y", which="major", length=5, width=1, color=SPINE, labelsize=11.5, labelcolor=TXT, pad=2, left=True)
    ax.tick_params(axis="y", which="minor", length=3.5, width=1, color=SPINE, left=True)
    ax.tick_params(axis="x", which="major", length=4, width=1, color=SPINE, labelsize=11.5, labelcolor=TXT, pad=3, bottom=True)
    ax.set_xlabel("Cycle", fontsize=11.5, color=TXT)
    ax.set_ylabel("ΔRn", fontsize=11, color=TXT)


def amp_legend(ax, labels, colors, anchor, spacing, ms):
    handles = [Line2D([], [], ls="", marker="o", ms=ms, mew=0, color=c) for c in colors]
    leg = ax.legend(handles, labels, loc="center left", bbox_to_anchor=anchor,
                    fontsize=11.5, labelspacing=spacing, handlelength=1.0,
                    handletextpad=0.45, borderpad=0.6, frameon=True,
                    facecolor="white", edgecolor="none", framealpha=1, fancybox=False)
    for t in leg.get_texts():
        t.set_color(TXT)
    leg.set_zorder(4)


def threshold_mark(ax, x, fs):
    ax.axhline(threshold, color="#b36ae0", lw=1.1, zorder=6)
    ax.text(x, threshold * 1.04, "40000.000", color="white", fontsize=fs, ha="left", va="bottom", zorder=7,
            bbox=dict(boxstyle="square,pad=0.12", fc="#7b1fa2", ec="none"))


fig = plt.figure(figsize=(13.43, 7.37), dpi=100)
fig.patch.set_facecolor("white")

# ---- (a)
ax_a = fig.add_axes([0.0752, 0.5441, 0.4967, 0.426])
for curves, color, lw in zip([bccr4_curves, bccr5_curves, bccr6_curves, bccr7_curves],
                             panel_a_colors, [3.4, 2.8, 3.0, 2.4]):
    draw_group(ax_a, curves, color, lw)
style_amp(ax_a, (316, 3.24e6))
ax_a.xaxis.set_label_coords(0.5, -0.105)
ax_a.yaxis.set_label_coords(-0.113, 0.525)
amp_legend(ax_a, panel_a_labels, panel_a_colors, (0.806, 0.384), 2.1, 11)
threshold_mark(ax_a, 4.6, 11)

# ---- (b)
ax_b = fig.add_axes([0.0678, 0.0665, 0.5108, 0.3826])
for curves, color, lw in zip([boa_curves, boa1_curves, boa2_curves, boa3_curves, boa4_curves],
                             panel_b_colors, [3.0, 2.5, 2.5, 2.0, 2.0]):
    draw_group(ax_b, curves, color, lw)
style_amp(ax_b, (302, 2.82e6))
ax_b.xaxis.set_label_coords(0.5, -0.11)
ax_b.yaxis.set_label_coords(-0.096, 0.525)
amp_legend(ax_b, panel_b_labels, panel_b_colors, (0.8157, 0.3475), 1.5, 12)
threshold_mark(ax_b, 4.0, 10.5)

# ---- (c)
ax_c = fig.add_axes([0.6515, 0.1343, 0.312, 0.7598])
melt = pd.concat([
    pd.DataFrame({"temp": gblock_temp, "deriv": gblock_deriv, "sample": panel_c_labels[1]}),
    pd.DataFrame({"temp": b41_temp, "deriv": b41_deriv, "sample": panel_c_labels[0]}),
    pd.DataFrame({"temp": gblockp_temp, "deriv": gblockp_deriv, "sample": panel_c_labels[2]}),
])
sns.lineplot(data=melt, x="temp", y="deriv", hue="sample", units="sample", estimator=None,
             palette=dict(zip(panel_c_labels, panel_c_colors)), lw=3.3, ax=ax_c, legend=False,
             solid_joinstyle="round", solid_capstyle="round")
ax_c.set_xlim(70, 98)
ax_c.set_ylim(-7, 532)
ax_c.set_xticks(range(70, 99, 2))
ax_c.set_yticks(range(0, 501, 100))
ax_c.set_yticklabels([f"{v}k" for v in range(0, 501, 100)])
ax_c.set_axisbelow(True)
ax_c.grid(True, which="major", axis="y", color=GRID, lw=1.2)
for t in [75, 80, 85, 90, 95]:
    ax_c.axvline(t, color=GRID, lw=1.2, zorder=0.5)
for s in ["top", "right"]:
    ax_c.spines[s].set_visible(False)
for s in ["left", "bottom"]:
    ax_c.spines[s].set_color(SPINE)
    ax_c.spines[s].set_linewidth(1.5)
ax_c.tick_params(axis="both", which="major", length=5, width=1, color=SPINE, labelsize=11.5,
                 labelcolor=TXT, left=True, bottom=True, pad=2)
ax_c.set_xlabel("Temperature (°C)", fontsize=11.5, color=TXT)
ax_c.set_ylabel("Derivative reporter", fontsize=11.5, color=TXT)
ax_c.xaxis.set_label_coords(0.482, -0.062)
ax_c.yaxis.set_label_coords(-0.122, 0.493)
handles_c = [Line2D([], [], ls="", marker="o", ms=16.5, mew=0, color=c) for c in panel_c_colors]
leg_c = ax_c.legend(handles_c, panel_c_labels, loc="center left", bbox_to_anchor=(0.03, 0.6125),
                    fontsize=12.5, labelspacing=1.7, handlelength=1.4, handletextpad=0.6,
                    borderpad=0.9, frameon=True, facecolor="white", edgecolor="none",
                    framealpha=1, fancybox=False)
leg_c.set_zorder(4)
for t in leg_c.get_texts():
    t.set_color(TXT)
fig.text(1050 / 1343, 1 - 53 / 737, "Melt curve plot (derivative)", ha="center", va="center",
         fontsize=12.2, color=TXT)

# panel letters
fig.text(12 / 1343, 1 - 23 / 737, r"($\it{a}$)", fontsize=15, va="center", ha="left", color=TXT)
fig.text(12 / 1343, 1 - 393 / 737, r"($\it{b}$)", fontsize=15, va="center", ha="left", color=TXT)
fig.text(807 / 1343, 1 - 21 / 737, r"($\it{c}$)", fontsize=15, va="center", ha="left", color=TXT)

fig.savefig("out.png", dpi=100, facecolor="white")
